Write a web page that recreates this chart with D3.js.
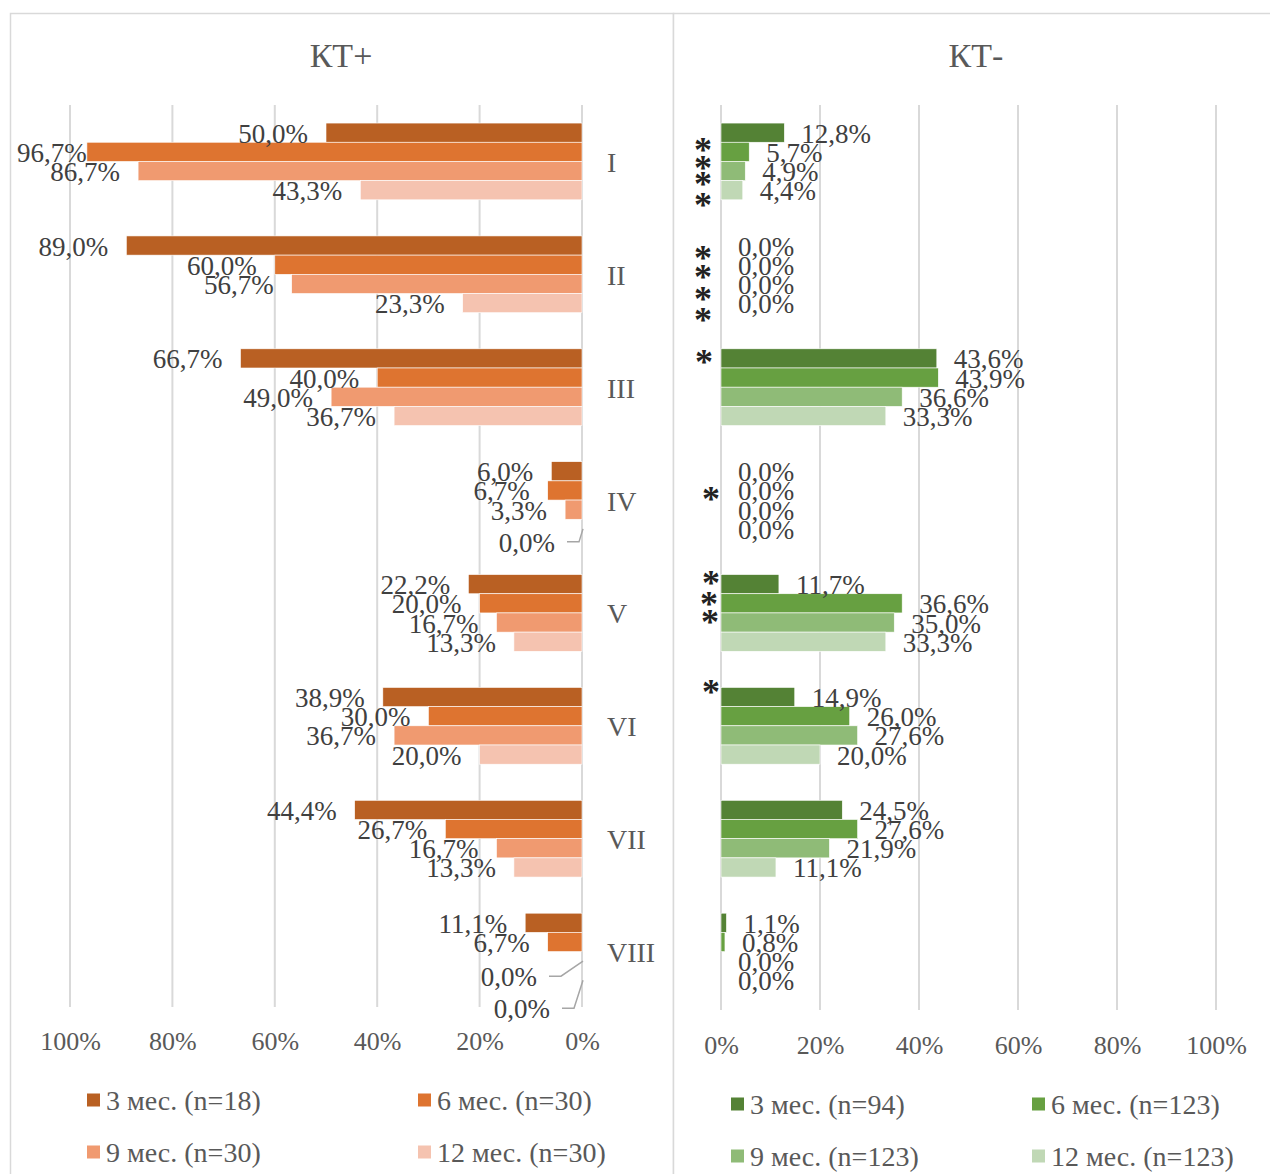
<!DOCTYPE html>
<html><head><meta charset="utf-8">
<script src="https://cdn.jsdelivr.net/npm/d3@7"></script>
<style>
body{margin:0;background:#fff}
svg{display:block}
text{font-family:"Liberation Serif","Times New Roman",serif}
</style>
</head><body>
<svg id="chart" width="1270" height="1174"></svg>
<script>
// ---- data ----
const categories = ["I", "II", "III", "IV", "V", "VI", "VII", "VIII"];
const ktPosNames = ["3 мес. (n=18)", "6 мес. (n=30)", "9 мес. (n=30)", "12 мес. (n=30)"];
const ktNegNames = ["3 мес. (n=94)", "6 мес. (n=123)", "9 мес. (n=123)", "12 мес. (n=123)"];
const ktPos3  = [50.0, 89.0, 66.7, 6.0, 22.2, 38.9, 44.4, 11.1];
const ktPos6  = [96.7, 60.0, 40.0, 6.7, 20.0, 30.0, 26.7, 6.7];
const ktPos9  = [86.7, 56.7, 49.0, 3.3, 16.7, 36.7, 16.7, 0.0];
const ktPos12 = [43.3, 23.3, 36.7, 0.0, 13.3, 20.0, 13.3, 0.0];
const ktNeg3  = [12.8, 0.0, 43.6, 0.0, 11.7, 14.9, 24.5, 1.1];
const ktNeg6  = [5.7, 0.0, 43.9, 0.0, 36.6, 26.0, 27.6, 0.8];
const ktNeg9  = [4.9, 0.0, 36.6, 0.0, 35.0, 27.6, 21.9, 0.0];
const ktNeg12 = [4.4, 0.0, 33.3, 0.0, 33.3, 20.0, 11.1, 0.0];
const tickValues = [0, 20, 40, 60, 80, 100];
// significance marks in КТ-: category and series index (null = whole group)
const markCategory = ["I", "I", "I", "I", "II", "II", "II", "II", "III", "IV", "V", "V", "V", "VI"];
const markSeries   = [0, 1, 2, 3, 0, 1, 2, 3, 0, null, 0, 1, 2, 0];

// ---- styling / layout ----
const posColors = ["#B96023", "#DE7430", "#F09A70", "#F5C3B0"];
const negColors = ["#548235", "#67A041", "#8FBB77", "#C0D8B5"];
const labelColor = "#404040";
const axisColor = "#595959";
const gridColor = "#D9D9D9";
// hand placement of the asterisks: centre x and vertical shift from the bar centre
const markX  = [703, 703, 703, 703, 703, 703, 703, 703, 704, 711, 711, 709, 710, 711];
const markDy = [12, 11, 8, 10, 7, 7, 10, 12, -1, -6, -6, -4, -6, -10];
// zero-value labels in КТ+ that sit away from their bar, joined by a leader line
const leaderLabels = [
  {cat: "IV", s: 3, dx: -9, dy: 13},
  {cat: "VIII", s: 2, dx: -27, dy: 15},
  {cat: "VIII", s: 3, dx: -14, dy: 28}
];

const fmt = d3.formatLocale({decimal: ",", thousands: "\u00a0", grouping: [3], currency: ["", ""]}).format(".1f");
const svg = d3.select("#chart");

// panel frames
svg.append("rect").attr("x", 10.5).attr("y", 13.5).attr("width", 663).attr("height", 1200)
  .attr("fill", "#fff").attr("stroke", gridColor).attr("stroke-width", 1.5);
svg.append("rect").attr("x", 673.5).attr("y", 13.5).attr("width", 700).attr("height", 1200)
  .attr("fill", "#fff").attr("stroke", gridColor).attr("stroke-width", 1.5);

const y = d3.scaleBand().domain(categories).range([105, 1008]).paddingInner(0.32).paddingOuter(0.16);
const ys = d3.scaleBand().domain([0, 1, 2, 3]).range([0, y.bandwidth()]);

function drawPanel(cfg) {
  const g = svg.append("g");
  const x = d3.scaleLinear().domain([0, 100]).range(cfg.range);

  // title
  g.append("text").attr("x", cfg.titleX).attr("y", 55)
    .attr("text-anchor", "middle").attr("dominant-baseline", "central")
    .attr("font-size", 34).attr("fill", axisColor).text(cfg.title);

  // vertical gridlines
  g.selectAll("line.grid").data(tickValues).join("line").attr("class", "grid")
    .attr("x1", d => x(d)).attr("x2", d => x(d))
    .attr("y1", 105).attr("y2", cfg.gridBottom)
    .attr("stroke", gridColor).attr("stroke-width", 2);

  // bars
  cfg.series.forEach((vals, s) => {
    const rows = vals.map((v, i) => ({cat: categories[i], v, s}));
    g.append("g").selectAll("rect").data(rows).join("rect")
      .attr("x", d => Math.min(x(0), x(d.v)))
      .attr("width", d => Math.abs(x(d.v) - x(0)))
      .attr("y", d => y(d.cat) + ys(d.s))
      .attr("height", ys.bandwidth())
      .attr("fill", cfg.colors[s])
      .attr("stroke", "#fff").attr("stroke-width", 0.6);
  });

  // value labels
  cfg.series.forEach((vals, s) => {
    vals.forEach((v, i) => {
      const cat = categories[i];
      const cy = y(cat) + ys(s) + ys.bandwidth() / 2;
      const nudge = cfg.leaders.find(l => l.cat === cat && l.s === s);
      const dx = nudge ? nudge.dx : 0, dy = nudge ? nudge.dy : 0;
      const t = g.append("text")
        .attr("y", cy + 1 + dy)
        .attr("dominant-baseline", "central")
        .attr("font-size", 27).attr("fill", labelColor)
        .text(fmt(v) + "%");
      if (cfg.side === "left") {
        let tx = x(v) - 18 + dx;
        const w = t.node().getComputedTextLength();
        if (tx - w < 17) tx = 17 + w;
        t.attr("x", tx).attr("text-anchor", "end");
        if (nudge) {
          const ly = cy + dy;
          g.append("polyline")
            .attr("points", [[tx + 12, ly], [tx + 24, ly], [x(v) + 1, cy]].map(p => p.join(",")).join(" "))
            .attr("fill", "none").attr("stroke", "#A6A6A6").attr("stroke-width", 1.5);
        }
      } else {
        t.attr("x", x(v) + 17 + dx).attr("text-anchor", "start");
      }
    });
  });

  // category labels
  if (cfg.catLabelX != null) {
    g.selectAll("text.cat").data(categories).join("text").attr("class", "cat")
      .attr("x", cfg.catLabelX).attr("y", d => y(d) + y.bandwidth() / 2 + 1)
      .attr("dominant-baseline", "central")
      .attr("font-size", 28).attr("fill", axisColor).text(d => d);
  }

  // value axis
  const axis = d3.axisBottom(x).tickValues(tickValues).tickFormat(d => d + "%").tickSize(0).tickPadding(0);
  const ag = g.append("g").attr("transform", `translate(0,${cfg.axisY})`).call(axis);
  ag.select(".domain").remove();
  ag.selectAll("text").attr("dy", null).attr("y", 0)
    .attr("dominant-baseline", "central")
    .attr("font-size", 26).attr("fill", axisColor)
    .attr("font-family", "'Liberation Serif','Times New Roman',serif");

  // legend (2 x 2)
  const lg = g.append("g");
  cfg.names.forEach((name, s) => {
    const col = s % 2, row = Math.floor(s / 2);
    const lx = cfg.legendX[col], ly = cfg.legendY[row];
    lg.append("rect").attr("x", lx).attr("y", ly - 6.5).attr("width", 13).attr("height", 13)
      .attr("fill", cfg.colors[s]);
    lg.append("text").attr("x", lx + 19).attr("y", ly)
      .attr("dominant-baseline", "central")
      .attr("font-size", 28).attr("fill", axisColor).text(name);
  });

  return {g, x};
}

drawPanel({
  side: "left", title: "КТ+", titleX: 341, range: [582, 70], gridBottom: 1007,
  series: [ktPos3, ktPos6, ktPos9, ktPos12], colors: posColors, names: ktPosNames,
  leaders: leaderLabels, catLabelX: 607, axisY: 1041,
  legendX: [87, 418], legendY: [1100, 1152]
});

const neg = drawPanel({
  side: "right", title: "КТ-", titleX: 976, range: [721, 1216], gridBottom: 1010,
  series: [ktNeg3, ktNeg6, ktNeg9, ktNeg12], colors: negColors, names: ktNegNames,
  leaders: [], catLabelX: null, axisY: 1045,
  legendX: [731, 1032], legendY: [1104, 1156]
});

// significance asterisks beside the КТ- bars
neg.g.selectAll("text.mark").data(markCategory.map((c, i) => ({c, s: markSeries[i], i})))
  .join("text").attr("class", "mark")
  .attr("x", d => markX[d.i])
  .attr("y", d => (d.s == null ? y(d.c) + y.bandwidth() / 2 : y(d.c) + ys(d.s) + ys.bandwidth() / 2) + markDy[d.i] + 17)
  .attr("text-anchor", "middle")
  .attr("font-size", 36).attr("font-weight", "bold").attr("fill", "#222").text("*");
</script>
</body></html>
